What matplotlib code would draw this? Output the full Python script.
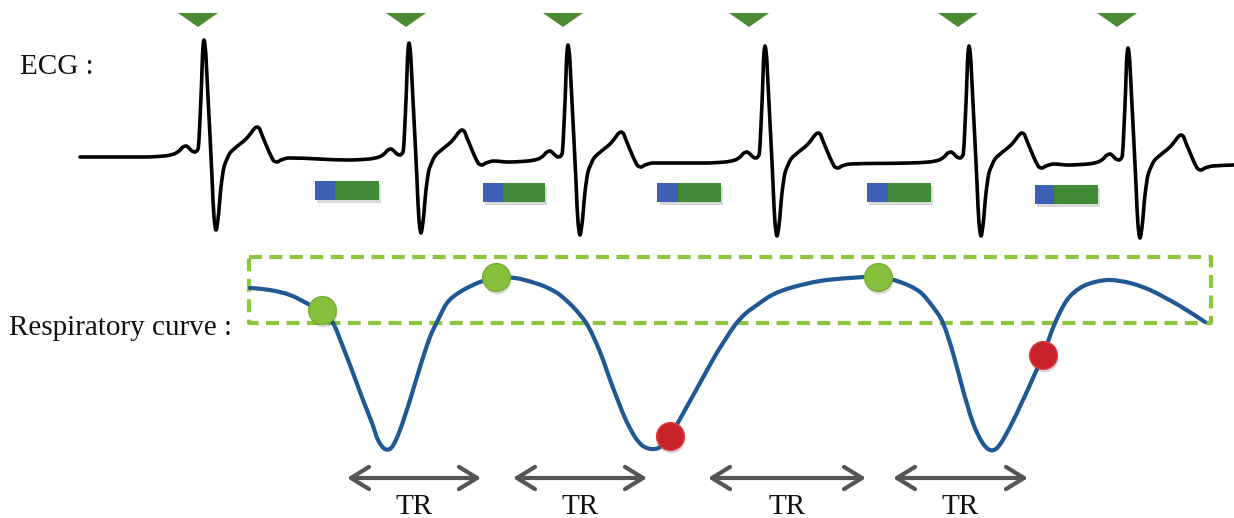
import numpy as np
import matplotlib
matplotlib.use("Agg")
import matplotlib.pyplot as plt
from matplotlib.path import Path
from matplotlib.patches import PathPatch, Polygon

# ---------- data (pixel units of the original sketch, y grows downward) ----------
# ECG: R-peak positions and local baseline of each beat
r_peak_x = [204, 409, 568, 765, 969, 1128]
beat_baseline = [157, 160, 162, 163, 163, 165]
ecg_start = (80, 157)
ecg_end = (1234, 165)

# one PQRST beat, offsets from (R-peak x, baseline)
beat_dx = [-60, -40, -30, -25, -21, -18, -15, -12, -9, -6, -3, -1, 0, 1, 4, 8, 10, 12,
           14, 17, 20, 23, 26, 30, 36, 42, 47, 51, 53, 55, 58, 63, 67, 70, 73, 77, 85]
beat_dy = [0, -1, -3, -6, -10, -11, -9, -6, -5, -8, -60, -110, -117, -112, -60, 20, 60, 73,
           62, 30, 10, 2, -4, -8, -13, -18, -24, -29, -30, -29, -22, -10, -1, 4, 5, 3, 1]

# trigger markers above R peaks
trigger_x = [198, 406, 563, 749, 958, 1117]

# acquisition windows (blue = start, green = rest)
window_left = [315, 483, 657, 867, 1035]
window_top = [181, 183, 183, 183, 185]
window_blue = [20, 20, 21, 21, 19]
window_total = [64, 62, 64, 64, 63]

# respiratory curve knots
resp_x = [250, 270, 290, 310, 322, 333, 343, 353, 363, 372, 378, 385, 392, 400, 410, 420,
          430, 437, 447, 460, 480, 496, 515, 535, 548, 560, 575, 588, 600, 612, 625, 635,
          643, 652, 660, 670, 685, 700, 715, 725, 735, 745, 757, 772, 790, 820, 850, 878,
          900, 920, 933, 943, 953, 963, 973, 982, 990, 998, 1010, 1023, 1033, 1043, 1055,
          1067, 1080, 1095, 1110, 1130, 1150, 1180, 1205]
resp_y = [288, 290, 295, 305, 312, 323, 347, 373, 400, 423, 440, 449, 447, 430, 400, 367,
          337, 322, 303, 292, 282, 278, 278, 283, 288, 295, 309, 326, 352, 385, 418, 437,
          446, 449, 447, 436, 410, 383, 356, 340, 325, 314, 305, 295, 288, 281, 278, 277,
          282, 292, 307, 323, 353, 390, 423, 442, 450, 447, 427, 400, 378, 355, 323,
          300, 288, 282, 280, 283, 290, 306, 322]

# gating window on the respiratory curve
gate_x = (249, 1211)
gate_y = (257, 323)

# accepted (green) / rejected (red) acquisitions
ok_x = [322, 496, 878]
ok_y = [310, 277, 277]
bad_x = [670, 1043]
bad_y = [436, 355]

# TR intervals
tr_start = [347, 513, 708, 893]
tr_end = [481, 647, 866, 1028]
tr_y = 478


def smooth_path(x, y, monotone=True):
    """Cubic Bezier path through the knots."""
    x = np.asarray(x, float)
    y = np.asarray(y, float)
    h = np.diff(x)
    d = np.diff(y) / h
    m = np.zeros_like(x)
    m[0], m[-1] = d[0], d[-1]
    for k in range(1, len(x) - 1):
        if not monotone:
            m[k] = (y[k + 1] - y[k - 1]) / (x[k + 1] - x[k - 1])
        elif d[k - 1] * d[k] > 0:
            w1 = 2 * h[k] + h[k - 1]
            w2 = h[k] + 2 * h[k - 1]
            m[k] = (w1 + w2) / (w1 / d[k - 1] + w2 / d[k])
    verts = [(x[0], y[0])]
    codes = [Path.MOVETO]
    for k in range(len(x) - 1):
        s = h[k] / 3
        verts += [(x[k] + s, y[k] + m[k] * s), (x[k + 1] - s, y[k + 1] - m[k + 1] * s),
                  (x[k + 1], y[k + 1])]
        codes += [Path.CURVE4] * 3
    return Path(verts, codes)


# ---------- figure ----------
fig = plt.figure(figsize=(12.34, 5.18), dpi=100)
ax = fig.add_axes([0, 0, 1, 1])
ax.set_xlim(0, 1234)
ax.set_ylim(518, 0)
ax.axis("off")

serif = ["Liberation Serif", "DejaVu Serif"]

# ECG trace
ex, ey = [ecg_start[0]], [ecg_start[1]]
for rx, b in zip(r_peak_x, beat_baseline):
    ex += [rx + dd for dd in beat_dx]
    ey += [b + dd for dd in beat_dy]
ex.append(ecg_end[0])
ey.append(ecg_end[1])
ax.add_patch(PathPatch(smooth_path(ex, ey), facecolor="none", edgecolor="black",
                       lw=2.6, joinstyle="round", capstyle="round", zorder=3))

# triggers
for tx in trigger_x:
    ax.add_patch(Polygon([[tx - 20, 13], [tx + 20, 13], [tx, 27]], closed=True,
                         facecolor="#4b8c33", edgecolor="none"))

# acquisition windows with a soft shadow
bh = 19
ax.bar(np.array(window_left) + 2, bh, width=window_total, bottom=np.array(window_top) + 3,
       align="edge", color="#000000", alpha=0.15, zorder=2)
ax.bar(window_left, bh, width=window_total, bottom=window_top, align="edge",
       color="#3f8a34", zorder=3)
ax.bar(window_left, bh, width=window_blue, bottom=window_top, align="edge",
       color="#3d60b4", zorder=4)

# gating window
gx0, gx1 = gate_x
gy0, gy1 = gate_y
ax.plot([gx0, gx1, gx1, gx0, gx0], [gy0, gy0, gy1, gy1, gy0], color="#8cc63f",
        lw=3, dashes=(3.1, 1.8), zorder=1)

# respiratory curve
ax.add_patch(PathPatch(smooth_path(resp_x, resp_y, monotone=False), facecolor="none",
                       edgecolor="#1f5893", lw=3, capstyle="round", zorder=5))

# dots
ax.plot(np.array(ok_x) + 1, np.array(ok_y) + 3, "o", ms=20, color="black", alpha=0.15,
        mec="none", zorder=6)
ax.plot(ok_x, ok_y, "o", ms=20, mfc="#86bf3b", mec="#78ad34", mew=1, zorder=7)
ax.plot(np.array(bad_x) + 1, np.array(bad_y) + 3, "o", ms=20, color="black", alpha=0.15,
        mec="none", zorder=6)
ax.plot(bad_x, bad_y, "o", ms=20, mfc="#c8232a", mec="#e0393e", mew=1, zorder=7)

# TR arrows
for x0, x1 in zip(tr_start, tr_end):
    ax.annotate("", xy=(x1, tr_y), xytext=(x0, tr_y),
                arrowprops=dict(arrowstyle="<->,head_length=0.65,head_width=0.4",
                                color="#555555", lw=3, mutation_scale=20,
                                shrinkA=0, shrinkB=0))
    ax.text((x0 + x1) / 2, 514, "TR", family=serif, fontsize=21, ha="center",
            va="baseline", color="#111111")

# labels
ax.text(20, 74, "ECG :", family=serif, fontsize=21, va="baseline", color="#111111")
ax.text(9, 335, "Respiratory curve :", family=serif, fontsize=21, va="baseline",
        color="#111111")

fig.savefig("out.png", dpi=100)
